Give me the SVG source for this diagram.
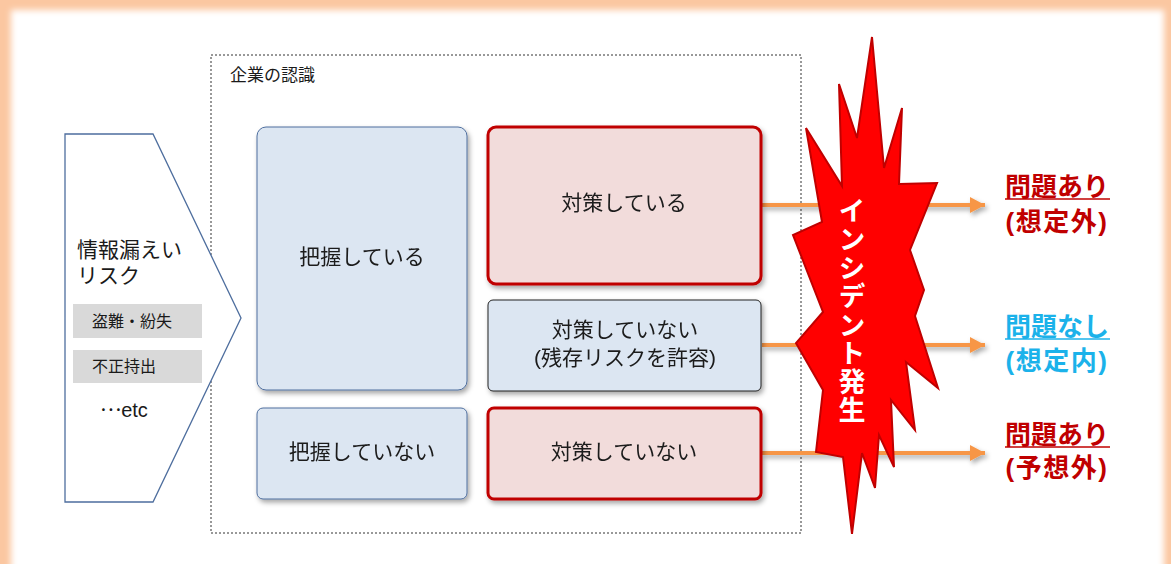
<svg xmlns="http://www.w3.org/2000/svg" width="1171" height="564" viewBox="0 0 1171 564">
<defs>
<style>
.jp{font-family:"Liberation Sans","Noto Sans CJK JP",sans-serif;fill:#1a1a1a}
.blue{fill:#DCE6F2;stroke:#4E6E9E;stroke-width:1}
.pink{fill:#F2DCDB;stroke:#C00000;stroke-width:3}
.gray{fill:#D9D9D9}
.arrow{stroke:#F79646;stroke-width:4;fill:none;marker-end:url(#ah)}
.res{font-family:"Liberation Sans","Noto Sans CJK JP",sans-serif;font-weight:bold;font-size:26px;text-anchor:middle}
.par{letter-spacing:1.5px}
</style>
<filter id="sh" x="-10%" y="-10%" width="130%" height="140%">
<feDropShadow dx="2" dy="3" stdDeviation="2.5" flood-color="#000" flood-opacity="0.35"/>
</filter>
<filter id="glow" x="-5%" y="-5%" width="110%" height="110%">
<feGaussianBlur stdDeviation="3"/>
</filter>
<marker id="ah" markerWidth="16" markerHeight="16" refX="15" refY="8" orient="auto" markerUnits="userSpaceOnUse">
<path d="M0,0 L15,8 L0,16 Z" fill="#F79646"/>
</marker>
</defs>

<rect x="0" y="0" width="1171" height="564" fill="#FBC7A1"/>
<rect x="11" y="10" width="1153" height="600" fill="#FFFFFF" filter="url(#glow)"/>

<g id="frame">
<rect x="211" y="55" width="590" height="478" fill="none" stroke="#333" stroke-width="1" stroke-dasharray="2,2"/>
<text class="jp" x="230" y="81" font-size="17">企業の認識</text>
</g>

<g id="risk">
<polygon points="65,134 153,134 241,318 153,502 65,502" fill="#fff" stroke="#4E6E9E" stroke-width="1.3"/>
<text class="jp" x="77" y="257" font-size="21">情報漏えい</text>
<text class="jp" x="77" y="283" font-size="21">リスク</text>
<rect class="gray" x="73" y="304" width="129" height="34"/>
<text class="jp" x="92" y="327" font-size="16">盗難・紛失</text>
<rect class="gray" x="73" y="350" width="129" height="33"/>
<text class="jp" x="92" y="372" font-size="16">不正持出</text>
<text class="jp" x="100" y="417" font-size="20"><tspan font-family="'Noto Sans CJK JP',sans-serif" dy="-6">…</tspan><tspan dy="6">etc</tspan></text>
</g>

<g id="connectors" filter="url(#sh)">
<line class="arrow" x1="762" y1="205" x2="985" y2="205"/>
<line class="arrow" x1="762" y1="345" x2="985" y2="345"/>
<line class="arrow" x1="762" y1="453" x2="985" y2="453"/>
</g>

<g id="aware" filter="url(#sh)">
<rect class="blue" x="257" y="127" width="210" height="263" rx="9"/>
<text class="jp" x="362" y="264" font-size="21" text-anchor="middle">把握している</text>
</g>
<g id="unaware" filter="url(#sh)">
<rect class="blue" x="257" y="408" width="210" height="91" rx="6"/>
<text class="jp" x="362" y="459" font-size="21" text-anchor="middle">把握していない</text>
</g>
<g id="measured" filter="url(#sh)">
<rect class="pink" x="488" y="127" width="273" height="157" rx="8"/>
<text class="jp" x="624" y="210" font-size="21" text-anchor="middle">対策している</text>
</g>
<g id="accepted" filter="url(#sh)">
<rect x="488" y="300" width="273" height="91" rx="5" fill="#DCE6F2" stroke="#222" stroke-width="1"/>
<text class="jp" x="625" y="337" font-size="21" text-anchor="middle">対策していない</text>
<text class="jp" x="625" y="365" font-size="21" text-anchor="middle">(残存リスクを許容)</text>
</g>
<g id="unmeasured" filter="url(#sh)">
<rect class="pink" x="488" y="408" width="273" height="91" rx="6"/>
<text class="jp" x="624" y="459" font-size="21" text-anchor="middle">対策していない</text>
</g>

<g id="incident">
<polygon points="872,37 884,168 902,108 899,184 937,183 910,250 924,290 915,316 938,388 906,362 915,430 891,400 894,467 879,435 875,488 862,453 852,534 843,457 816,452 823,390 796,343 823,312 793,235 822,222 806,128 842,186 839,84 857,138" fill="#FF0000" stroke="#C00000" stroke-width="2" stroke-linejoin="miter"/>
<text x="852" y="197" font-family="'Noto Sans CJK JP',sans-serif" font-weight="bold" font-size="27" fill="#fff" style="writing-mode:vertical-rl" letter-spacing="1.5">インシデント発生</text>
</g>

<g id="result1">
<text class="res" x="1057" y="196" fill="#C00000">問題あり</text>
<line x1="1005" y1="199" x2="1110" y2="199" stroke="#C00000" stroke-width="1.5"/>
<text class="res par" x="1057" y="231" fill="#C00000">(想定外)</text>
</g>
<g id="result2">
<text class="res" x="1057" y="336" fill="#1BB2EA">問題なし</text>
<line x1="1005" y1="339" x2="1110" y2="339" stroke="#1BB2EA" stroke-width="1.5"/>
<text class="res par" x="1057" y="370" fill="#1BB2EA">(想定内)</text>
</g>
<g id="result3">
<text class="res" x="1057" y="444" fill="#C00000">問題あり</text>
<line x1="1005" y1="447" x2="1110" y2="447" stroke="#C00000" stroke-width="1.5"/>
<text class="res par" x="1057" y="477" fill="#C00000">(予想外)</text>
</g>
</svg>
